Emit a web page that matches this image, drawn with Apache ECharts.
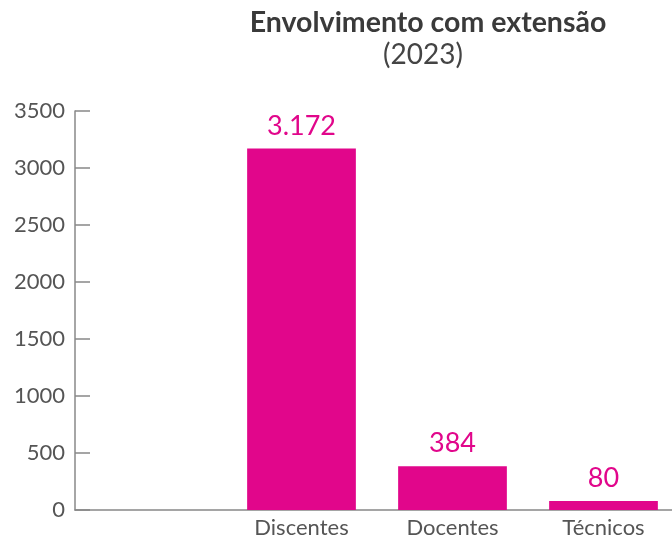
<!DOCTYPE html>
<html>
<head>
<meta charset="utf-8">
<script src="https://cdn.jsdelivr.net/npm/echarts@6/dist/echarts.min.js"></script>
<style>
  html, body { margin: 0; padding: 0; background: #fff; overflow: hidden; }
  /* the original plot runs a few pixels past the right edge */
  #chart { width: 680px; height: 540px; }
</style>
</head>
<body>
<div id="chart"></div>
<script>
// data
const categories = ['', 'Discentes', 'Docentes', 'Técnicos'];
const values = [null, 3172, 384, 80];
const yTicks = { min: 0, max: 3500, interval: 500 };

const pink = '#E1068B';
const grey = '#555';

const chart = echarts.init(document.getElementById('chart'));

chart.setOption({
  animation: false,
  textStyle: { fontFamily: 'Lato' },
  title: [
    {
      text: 'Envolvimento com extensão',
      left: 423, top: 3, textAlign: 'center',
      textStyle: { fontFamily: 'Lato', fontSize: 28.5, fontWeight: 'bold', color: '#3a3a3a' }
    },
    {
      text: '(2023)',
      left: 418, top: 36, textAlign: 'center',
      textStyle: { fontFamily: 'Lato', fontSize: 28, fontWeight: 'normal', color: '#444' }
    }
  ],
  grid: { left: 75, top: 111, width: 604, bottom: 30, containLabel: false },
  xAxis: {
    type: 'category',
    data: categories,
    axisLine: { lineStyle: { color: '#888', width: 1.5 } },
    axisTick: { inside: true, length: 12, interval: 0, lineStyle: { color: '#ccc', width: 1.5 } },
    axisLabel: { color: grey, fontSize: 22, fontFamily: 'Lato', margin: 7, interval: 0 }
  },
  yAxis: {
    type: 'value',
    min: yTicks.min, max: yTicks.max, interval: yTicks.interval,
    splitLine: { show: false },
    axisLine: { show: true, lineStyle: { color: '#888', width: 1.5 } },
    axisTick: { show: true, inside: true, length: 15, lineStyle: { color: '#888', width: 1.5 } },
    axisLabel: { color: grey, fontSize: 22, fontFamily: 'Lato', margin: 10, formatter: v => String(v) }
  },
  series: [{
    type: 'bar',
    data: values,
    barWidth: '72%',
    itemStyle: { color: pink },
    label: {
      show: true,
      position: 'top',
      distance: 9,
      color: pink,
      fontSize: 27,
      fontFamily: 'Lato',
      formatter: p => p.value == null ? '' : p.value.toLocaleString('de-DE')
    }
  }]
});
</script>
</body>
</html>
